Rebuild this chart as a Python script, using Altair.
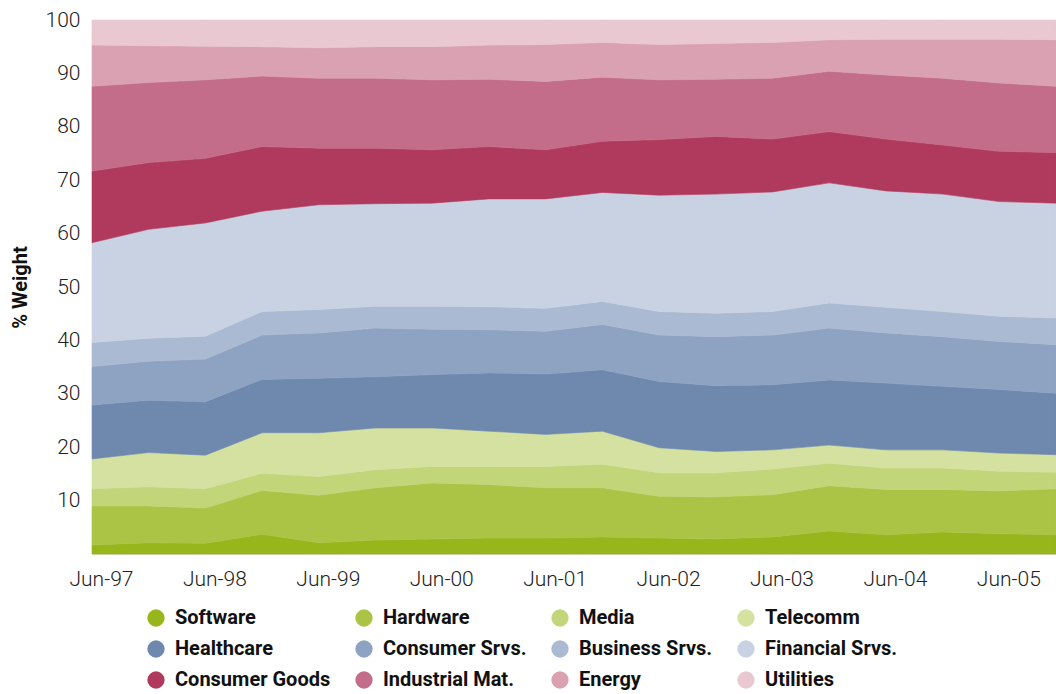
import altair as alt
import pandas as pd

periods = ["Jun-97", "Dec-97", "Jun-98", "Dec-98", "Jun-99", "Dec-99", "Jun-00", "Dec-00",
           "Jun-01", "Dec-01", "Jun-02", "Dec-02", "Jun-03", "Dec-03", "Jun-04", "Dec-04",
           "Jun-05", "Dec-05"]

sectors = ["Software", "Hardware", "Media", "Telecomm",
           "Healthcare", "Consumer Srvs.", "Business Srvs.", "Financial Srvs.",
           "Consumer Goods", "Industrial Mat.", "Energy", "Utilities"]

software = [1.7, 2.1, 2.0, 3.7, 2.1, 2.6, 2.8, 3.0, 3.0, 3.2, 3.0, 2.8, 3.2, 4.3, 3.6, 4.1, 3.8, 3.6]
hardware = [7.3, 6.9, 6.6, 8.2, 8.9, 9.8, 10.5, 10.0, 9.4, 9.2, 7.8, 7.9, 7.9, 8.5, 8.5, 8.0, 8.0, 8.6]
media = [3.2, 3.6, 3.6, 3.2, 3.5, 3.4, 3.1, 3.4, 4.0, 4.4, 4.4, 4.5, 4.8, 4.2, 4.0, 4.0, 3.7, 3.1]
telecomm = [5.6, 6.4, 6.3, 7.6, 8.2, 7.8, 7.2, 6.6, 6.0, 6.2, 4.7, 4.0, 3.6, 3.4, 3.4, 3.4, 3.4, 3.3]
healthcare = [10.1, 9.8, 10.0, 10.0, 10.2, 9.6, 10.0, 10.9, 11.3, 11.5, 12.4, 12.3, 12.2, 12.2, 12.5, 11.9, 11.9, 11.5]
consumer_srvs = [7.2, 7.3, 8.0, 8.3, 8.5, 9.1, 8.5, 8.1, 8.0, 8.5, 8.7, 9.2, 9.3, 9.7, 9.4, 9.3, 9.0, 9.1]
business_srvs = [4.5, 4.3, 4.3, 4.4, 4.4, 4.1, 4.3, 4.3, 4.3, 4.3, 4.4, 4.4, 4.4, 4.7, 4.8, 4.7, 4.7, 5.0]
financial_srvs = [18.7, 20.4, 21.2, 18.8, 19.6, 19.2, 19.3, 20.2, 20.5, 20.4, 21.8, 22.3, 22.4, 22.5, 21.8, 22.0, 21.5, 21.5]
consumer_goods = [13.4, 12.5, 12.1, 12.1, 10.6, 10.4, 10.0, 9.8, 9.2, 9.6, 10.4, 10.8, 9.9, 9.6, 9.7, 9.2, 9.4, 9.5]
industrial_mat = [15.9, 15.0, 14.7, 13.2, 13.1, 13.1, 13.1, 12.6, 12.8, 12.0, 11.2, 10.7, 11.4, 11.3, 12.0, 12.5, 12.8, 12.4]
energy = [7.7, 6.9, 6.3, 5.5, 5.7, 5.9, 6.2, 6.4, 6.9, 6.5, 6.6, 6.7, 6.7, 5.9, 6.7, 7.3, 8.2, 8.7]
utilities = [4.7, 4.8, 4.9, 5.0, 5.2, 5.0, 5.0, 4.7, 4.6, 4.2, 4.6, 4.4, 4.2, 3.7, 3.6, 3.6, 3.6, 3.7]

series = [software, hardware, media, telecomm, healthcare, consumer_srvs, business_srvs,
          financial_srvs, consumer_goods, industrial_mat, energy, utilities]

colors = ["#97b61c", "#abc445", "#c2d579", "#d4e1a0",
          "#6e88ae", "#8ea3c2", "#aabad2", "#c9d2e2",
          "#b03a5d", "#c46d8a", "#daa1b3", "#eac8d1"]

y_ticks = [10, 20, 30, 40, 50, 60, 70, 80, 90, 100]

rows = []
for i, (name, vals) in enumerate(zip(sectors, series)):
    for p, v in zip(periods, vals):
        rows.append({"period": p, "sector": name, "weight": v, "stack_order": i})
df = pd.DataFrame(rows)

AXIS_FONT = "Roboto, Liberation Sans, sans-serif"
LEGEND_FONT = "Roboto, Liberation Sans, sans-serif"

color_scale = alt.Scale(domain=sectors, range=colors)

chart = alt.Chart(df).mark_area(opacity=1, strokeWidth=0.6).encode(
    x=alt.X("period:O", sort=periods,
            scale=alt.Scale(type="point", padding=0),
            axis=alt.Axis(title=None, labelAngle=0,
                          labelExpr="substring(datum.label, 0, 3) == 'Jun' ? datum.label : ''",
                          ticks=False, domain=False, labelFont=AXIS_FONT, labelFontSize=21,
                          labelFontWeight=300,
                          labelColor="#222222", labelPadding=14, labelOverlap=False,
                          labelOffset=9)),
    y=alt.Y("weight:Q", stack="zero",
            scale=alt.Scale(domain=[0, 100], nice=False),
            axis=alt.Axis(title="% Weight", values=y_ticks, ticks=False, domain=False,
                          grid=False, labelFont=AXIS_FONT, labelFontSize=21,
                          labelFontWeight=300,
                          labelColor="#222222", labelPadding=12,
                          titleFont=LEGEND_FONT, titleFontSize=20, titleFontWeight="bold",
                          titleColor="#111111", titlePadding=15)),
    color=alt.Color("sector:N", sort=sectors, scale=color_scale,
                    legend=alt.Legend(title=None, orient="none", legendX=54, legendY=588,
                                      columns=4, direction="horizontal",
                                      symbolType="circle", symbolSize=300,
                                      symbolStrokeWidth=0, symbolOpacity=1,
                                      labelFont=LEGEND_FONT, labelFontSize=20,
                                      labelFontWeight="bold",
                                      labelColor="#111111", rowPadding=11, columnPadding=23,
                                      labelOffset=9, labelLimit=0, padding=0)),
    stroke=alt.Stroke("sector:N", sort=sectors, scale=color_scale, legend=None),
    order=alt.Order("stack_order:Q", sort="ascending"),
).properties(
    width=964, height=534,
    autosize=alt.AutoSizeParams(type="none"),
    padding={"left": 92, "top": 20, "right": 0, "bottom": 140},
).configure_view(
    stroke="#cccccc", strokeWidth=1
).configure(background="white")

chart.save("out.html", embed_options={"renderer": "svg", "actions": False})
